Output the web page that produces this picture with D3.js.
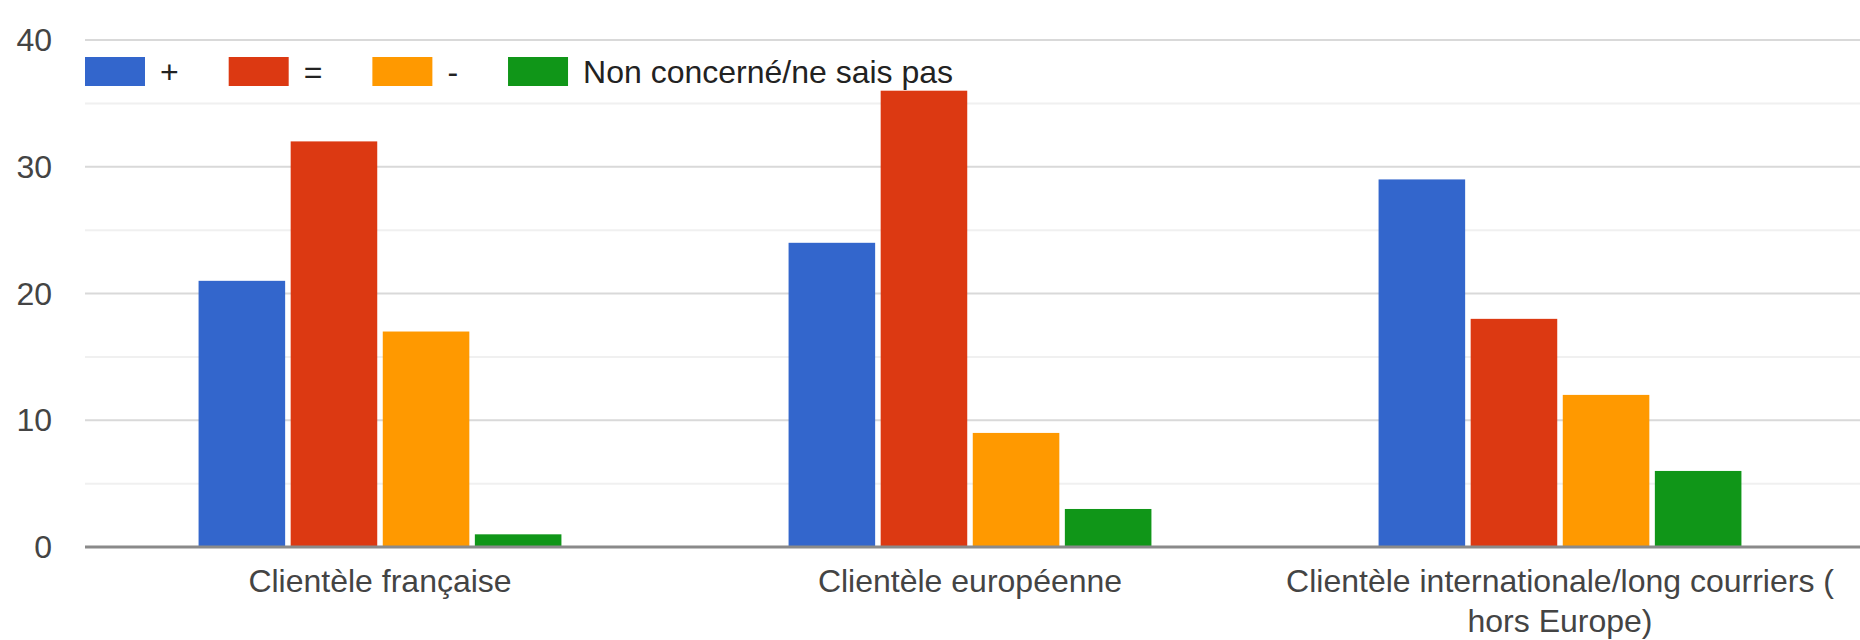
<!DOCTYPE html>
<html lang="fr">
    <head>
        <meta charset="UTF-8" />
        <title>Clientèle</title>
        <style>
            html,
            body {
                margin: 0;
                background: #fff;
            }

            svg text {
                font-family: Arial, "Liberation Sans", Helvetica, sans-serif;
                font-size: 32px;
            }

            .grid line {
                stroke: #d9d9d9;
                stroke-width: 2px;
            }

            .grid .minor {
                stroke: #f0f0f0;
            }

            .baseline {
                stroke: #8a8a8a;
                stroke-width: 3px;
            }

            .ylab,
            .xlab {
                fill: #444;
            }

            .legend text {
                fill: #222;
            }
        </style>
    </head>
    <body>
        <div id="chart"></div>
        <script src="https://cdn.jsdelivr.net/npm/d3@7"></script>
        <script>
            // data
            const categories = [
                "Clientèle française",
                "Clientèle européenne",
                "Clientèle internationale/long courriers ( hors Europe)"
            ];
            const categoryLines = [
                ["Clientèle française"],
                ["Clientèle européenne"],
                ["Clientèle internationale/long courriers (", "hors Europe)"]
            ];
            const series = ["+", "=", "-", "Non concerné/ne sais pas"];
            const plus = [21, 24, 29];
            const equal = [32, 36, 18];
            const minus = [17, 9, 12];
            const nonConcerne = [1, 3, 6];
            const yTicks = [0, 10, 20, 30, 40];
            const yMinorTicks = [5, 15, 25, 35];

            const values = [plus, equal, minus, nonConcerne];
            const colors = ["#3366cc", "#dc3912", "#ff9900", "#109618"];

            const width = 1860;
            const height = 640;
            const plotLeft = 85;
            const plotRight = 1855;
            const plotTop = 40;
            const plotBottom = 547;

            const svg = d3
                .select("#chart")
                .append("svg")
                .attr("width", width)
                .attr("height", height);

            const y = d3.scaleLinear().domain([0, 40]).range([plotBottom, plotTop]);

            const x0 = d3
                .scaleBand()
                .domain(categories)
                .range([plotLeft, plotRight])
                .paddingInner(0.385)
                .paddingOuter(0.1925);

            const x1 = d3
                .scaleBand()
                .domain(series)
                .range([0, x0.bandwidth()])
                .paddingInner(0.06);

            const color = d3.scaleOrdinal().domain(series).range(colors);

            // gridlines
            const grid = svg.append("g").attr("class", "grid");
            grid.selectAll(".minor")
                .data(yMinorTicks)
                .enter()
                .append("line")
                .attr("class", "minor")
                .attr("x1", plotLeft)
                .attr("x2", width)
                .attr("y1", d => y(d))
                .attr("y2", d => y(d));
            grid.selectAll(".major")
                .data(yTicks.filter(d => d !== 0))
                .enter()
                .append("line")
                .attr("class", "major")
                .attr("x1", plotLeft)
                .attr("x2", width)
                .attr("y1", d => y(d))
                .attr("y2", d => y(d));

            svg.append("g")
                .selectAll("text")
                .data(yTicks)
                .enter()
                .append("text")
                .attr("class", "ylab")
                .attr("x", 52)
                .attr("y", d => y(d))
                .attr("dy", "0.35em")
                .attr("text-anchor", "end")
                .text(d => d);

            // bars
            const rows = categories.map((c, i) => ({
                category: c,
                vals: series.map((s, j) => ({ key: s, value: values[j][i] }))
            }));

            svg.append("g")
                .selectAll("g")
                .data(rows)
                .enter()
                .append("g")
                .attr("transform", d => `translate(${x0(d.category)},0)`)
                .selectAll("rect")
                .data(d => d.vals)
                .enter()
                .append("rect")
                .attr("x", d => x1(d.key))
                .attr("width", x1.bandwidth())
                .attr("y", d => y(d.value))
                .attr("height", d => y(0) - y(d.value))
                .attr("fill", d => color(d.key));

            svg.append("line")
                .attr("class", "baseline")
                .attr("x1", plotLeft)
                .attr("x2", width)
                .attr("y1", y(0))
                .attr("y2", y(0));

            // category labels
            svg.append("g")
                .selectAll("text")
                .data(categories)
                .enter()
                .append("text")
                .attr("class", "xlab")
                .attr("text-anchor", "middle")
                .attr("x", d => x0(d) + x0.bandwidth() / 2)
                .attr("y", 592)
                .each(function (d, i) {
                    d3.select(this)
                        .selectAll("tspan")
                        .data(categoryLines[i])
                        .enter()
                        .append("tspan")
                        .attr("x", x0(d) + x0.bandwidth() / 2)
                        .attr("dy", (t, k) => (k === 0 ? 0 : 40))
                        .text(t => t);
                });

            // legend
            const legend = svg.append("g").attr("class", "legend");
            let lx = plotLeft;
            series.forEach(s => {
                legend
                    .append("rect")
                    .attr("x", lx)
                    .attr("y", 57)
                    .attr("width", 60)
                    .attr("height", 29)
                    .attr("fill", color(s));
                const t = legend
                    .append("text")
                    .attr("x", lx + 75)
                    .attr("y", 72)
                    .attr("dy", "0.35em")
                    .text(s);
                lx += 75 + t.node().getComputedTextLength() + 50;
            });
        </script>
    </body>
</html>
